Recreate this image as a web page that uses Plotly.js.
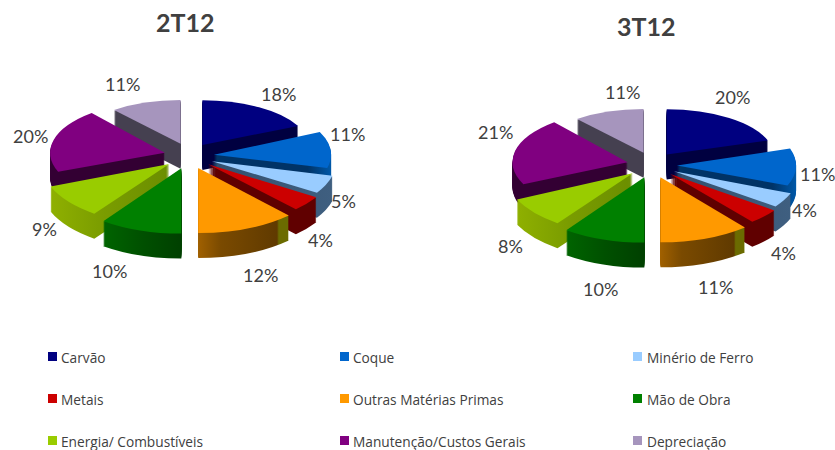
<!DOCTYPE html>
<html><head><meta charset="utf-8">
<script src="https://cdn.plot.ly/plotly-3.0.1.min.js"></script>
<style>html,body{margin:0;padding:0;background:#fff}#c{width:835px;height:450px}</style>
</head><body><div id="c"></div>
<script>
// ---- data ----
var categories = ["Carvão","Coque","Minério de Ferro","Metais","Outras Matérias Primas","Mão de Obra","Energia/ Combustíveis","Manutenção/Custos Gerais","Depreciação"];
var values2T12 = [18,11,5,4,12,10,9,20,11];
var values3T12 = [20,11,4,4,11,10,8,21,11];
var titles = ["2T12","3T12"];

// ---- styles ----
var topColors = ["#000080","#0066cc","#99ccff","#cc0000","#ff9900","#008000","#99cc00","#800080","#a695bd"];
var sideStops = [
  [[0,"#000040"],[1,"#000040"]],
  [[0,"#003366"],[.8,"#003366"],[1,"#0058a8"]],
  [[0,"#33506e"],[1,"#3f5f80"]],
  [[0,"#600000"],[1,"#600000"]],
  [[0,"#a06000"],[.25,"#7a4a00"],[.87,"#603a00"],[.89,"#6b6b00"],[1,"#6b6b00"]],
  [[0,"#006400"],[.5,"#005000"],[1,"#004000"]],
  [[0,"#8fb000"],[.45,"#7a9c00"],[1,"#6b8e00"]],
  [[0,"#330033"],[1,"#330033"]],
  [[0,"#454050"],[1,"#454050"]]
];
var W = 835, H = 450, DEPTH = 25, SQUASH = 0.52, PULL = 0.217, DIAM = 280;
var pies = [
  {values: values2T12, cx: 189, cy: 156, titleX: 185, titleY: 22,
   labelX: [278,347,343,320,260,109,44,30,122], labelY: [94,134,201,240,275,271,229,136,84]},
  {values: values3T12, cx: 652, cy: 165, titleX: 646, titleY: 26,
   labelX: [732,817,804,783,715,600,511,495,622], labelY: [97,174,210,253,287,289,246,132,92]}
];
var legendColX = [48,340,633], legendTextX = [59,351,645], legendRowY = [357,399,441];

// ---- traces ----
var traces = [], placement = [];
pies.forEach(function (p) {
  var domain = {x: [(p.cx - DIAM/2)/W, (p.cx + DIAM/2)/W], y: [(H/2 - DIAM/2)/H, (H/2 + DIAM/2)/H]};
  for (var k = DEPTH; k >= 0; k--) {
    traces.push({
      type: "pie", values: p.values, labels: categories, sort: false, direction: "clockwise", rotation: 0,
      pull: PULL, domain: domain, textinfo: "none", hoverinfo: k ? "skip" : "label+percent",
      marker: {colors: topColors, line: {width: 0}}, showlegend: false
    });
    placement.push({pie: p, k: k});
  }
});

// ---- text and legend ----
var annotations = [], shapes = [];
function addText(x, y, text, size, weight, anchor, family) {
  annotations.push({xref: "paper", yref: "paper", x: x/W, y: 1 - y/H, text: weight ? "<b>" + text + "</b>" : text,
    showarrow: false, xanchor: anchor, yanchor: "middle", font: {family: family, size: size, color: "#404040"}});
}
pies.forEach(function (p, i) {
  addText(p.titleX, p.titleY, titles[i], 25, true, "center", "Lato, sans-serif");
  p.values.forEach(function (v, j) {
    addText(p.labelX[j], p.labelY[j], v + "%", 18, false, "center", "Lato, sans-serif");
  });
});
categories.forEach(function (c, i) {
  var col = i % 3, row = Math.floor(i / 3), x = legendColX[col], y = legendRowY[row];
  shapes.push({type: "rect", xref: "paper", yref: "paper", x0: x/W, x1: (x+9)/W, y0: 1-(y-5)/H, y1: 1-(y+4)/H,
    fillcolor: topColors[i], line: {width: 0}});
  addText(legendTextX[col], y, c, 13.7, false, "left", "'Open Sans', sans-serif");
});

Plotly.newPlot("c", traces, {
  width: W, height: H, margin: {l: 0, r: 0, t: 0, b: 0}, paper_bgcolor: "#fff", showlegend: false,
  annotations: annotations, shapes: shapes
}, {displayModeBar: false, staticPlot: true}).then(function (gd) {
  var svg = gd.querySelector("svg.main-svg"), NS = "http://www.w3.org/2000/svg";
  var defs = svg.querySelector("defs") || svg.insertBefore(document.createElementNS(NS, "defs"), svg.firstChild);
  sideStops.forEach(function (stops, i) {
    var g = document.createElementNS(NS, "linearGradient");
    g.setAttribute("id", "side" + i);
    stops.forEach(function (s) {
      var st = document.createElementNS(NS, "stop");
      st.setAttribute("offset", s[0]); st.setAttribute("stop-color", s[1]); g.appendChild(st);
    });
    defs.appendChild(g);
  });
  var radius = DIAM / 2 / (1 + PULL);
  gd.querySelectorAll(".pielayer g.trace").forEach(function (t, i) {
    var pl = placement[i], p = pl.pie, total = p.values.reduce(function (a, b) { return a + b; }, 0), run = 0;
    t.setAttribute("transform", "translate(" + p.cx + "," + (p.cy + pl.k) + ") scale(1," + SQUASH + ") translate(" + (-p.cx) + "," + (-H/2) + ")");
    t.querySelectorAll("g.slice path.surface").forEach(function (s, j) {
      // perspective: far slices shrink and near slices grow, each about its own apex
      var mid = (run + p.values[j] / 2) / total * 2 * Math.PI; run += p.values[j];
      var ax = p.cx + PULL * radius * Math.sin(mid), ay = H/2 - PULL * radius * Math.cos(mid);
      var fx = 1.03 - 0.13 * Math.cos(mid), fy = 0.91 - 0.19 * Math.cos(mid);
      s.setAttribute("transform", "translate(" + ax + "," + ay + ") scale(" + fx + "," + fy + ") translate(" + (-ax) + "," + (-ay) + ")");
      if (pl.k > 0) s.style.fill = "url(#side" + j + ")";
    });
  });
});
</script></body></html>
